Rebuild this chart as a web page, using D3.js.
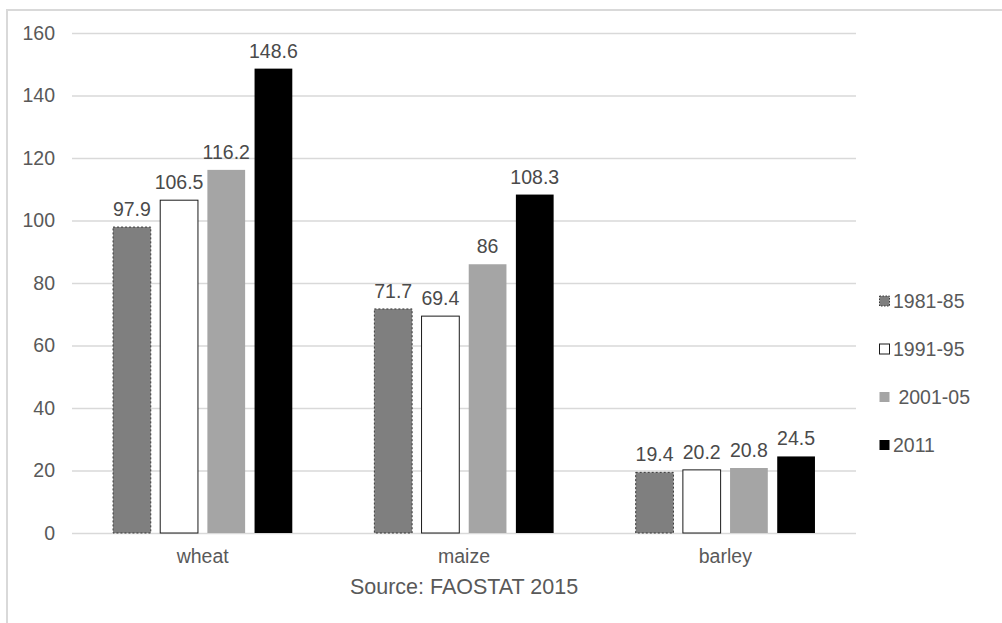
<!DOCTYPE html>
<html>
<head>
<meta charset="utf-8">
<script src="https://cdn.jsdelivr.net/npm/d3@7"></script>
<style>
  body { margin: 0; background: #fff; }
  svg { display: block; font-family: "Liberation Sans", Arial, sans-serif; }
</style>
</head>
<body>
<div id="chart"></div>
<script>
// crop yields by period, grouped bars
const crops = ["wheat", "maize", "barley"];
const periods = ["1981-85", "1991-95", "2001-05", "2011"];
const legendLabels = ["1981-85", "1991-95", " 2001-05", "2011"];
const wheat = [97.9, 106.5, 116.2, 148.6];
const maize = [71.7, 69.4, 86, 108.3];
const barley = [19.4, 20.2, 20.8, 24.5];
const yTicks = [0, 20, 40, 60, 80, 100, 120, 140, 160];
const sourceText = "Source: FAOSTAT 2015";

const values = {wheat, maize, barley};

const W = 1002, H = 623;
const margin = {top: 33, left: 72, right: 146, bottom: 90};
const textColor = "#595959";
const gridColor = "#d9d9d9";

const styles = {
    "1981-85": {fill: "#7f7f7f", stroke: "#3a3a3a", dash: "2,2"},
    "1991-95": {fill: "#ffffff", stroke: "#1a1a1a", dash: null},
    "2001-05": {fill: "#a5a5a5", stroke: "none", dash: null},
    "2011": {fill: "#000000", stroke: "none", dash: null}
};

const svg = d3.select("#chart")
    .append("svg")
    .attr("width", W)
    .attr("height", H);

// outer frame (only top and left edges show)
svg.append("rect")
    .attr("x", 7)
    .attr("y", 10)
    .attr("width", W + 20)
    .attr("height", H + 20)
    .attr("fill", "none")
    .attr("stroke", gridColor)
    .attr("stroke-width", 2);

const x0 = d3.scaleBand()
    .domain(crops)
    .range([margin.left, W - margin.right]);

const x1 = d3.scaleBand()
    .domain(periods)
    .range([0, x0.bandwidth()])
    .paddingInner(0.2)
    .paddingOuter(0.87);

const y = d3.scaleLinear()
    .domain([0, 160])
    .range([H - margin.bottom, margin.top]);

// y axis + gridlines
const yAxis = svg.append("g")
    .attr("transform", `translate(${margin.left},0)`)
    .call(d3.axisLeft(y)
        .tickValues(yTicks)
        .tickSize(-(W - margin.right - margin.left))
        .tickPadding(17));
yAxis.select(".domain").remove();
yAxis.selectAll(".tick line").attr("stroke", gridColor).attr("stroke-width", 1.3);
yAxis.selectAll(".tick text")
    .attr("fill", textColor)
    .style("font-size", "19.5px")
    .style("font-family", "'Liberation Sans', Arial, sans-serif");

// x axis labels
const xAxis = svg.append("g")
    .attr("transform", `translate(0,${H - margin.bottom})`)
    .call(d3.axisBottom(x0).tickSize(0).tickPadding(16));
xAxis.select(".domain").remove();
xAxis.selectAll(".tick text")
    .attr("fill", textColor)
    .style("font-size", "19.5px")
    .style("font-family", "'Liberation Sans', Arial, sans-serif");

// bars
const groups = svg.append("g")
    .selectAll("g")
    .data(crops)
    .join("g")
    .attr("transform", d => `translate(${x0(d)},0)`);

groups.selectAll("rect")
    .data(c => periods.map((p, i) => ({period: p, value: values[c][i]})))
    .join("rect")
    .attr("x", d => x1(d.period))
    .attr("y", d => y(d.value))
    .attr("width", x1.bandwidth())
    .attr("height", d => y(0) - y(d.value))
    .attr("fill", d => styles[d.period].fill)
    .attr("stroke", d => styles[d.period].stroke)
    .attr("stroke-width", 1)
    .attr("stroke-dasharray", d => styles[d.period].dash);

// value labels
groups.selectAll("text")
    .data(c => periods.map((p, i) => ({period: p, value: values[c][i]})))
    .join("text")
    .attr("x", d => x1(d.period) + x1.bandwidth() / 2)
    .attr("y", d => y(d.value) - 11)
    .attr("text-anchor", "middle")
    .attr("fill", "#4a4a4a")
    .style("font-size", "19.5px")
    .text(d => d.value);

// axis title / source
svg.append("text")
    .attr("x", (margin.left + W - margin.right) / 2)
    .attr("y", 594)
    .attr("text-anchor", "middle")
    .attr("fill", textColor)
    .style("font-size", "21.5px")
    .text(sourceText);

// legend
const legend = svg.append("g")
    .attr("transform", "translate(879,301)");

const items = legend.selectAll("g")
    .data(periods)
    .join("g")
    .attr("transform", (d, i) => `translate(0,${i * 48})`);

items.append("rect")
    .attr("x", 0.5)
    .attr("y", -5)
    .attr("width", 10)
    .attr("height", 10)
    .attr("fill", d => styles[d].fill)
    .attr("stroke", d => styles[d].stroke)
    .attr("stroke-dasharray", d => styles[d].dash ? "1.5,1.5" : null);

items.append("text")
    .attr("x", 14)
    .attr("dy", "0.35em")
    .attr("fill", textColor)
    .style("font-size", "19.5px")
    .style("white-space", "pre")
    .text((d, i) => legendLabels[i]);
</script>
</body>
</html>
